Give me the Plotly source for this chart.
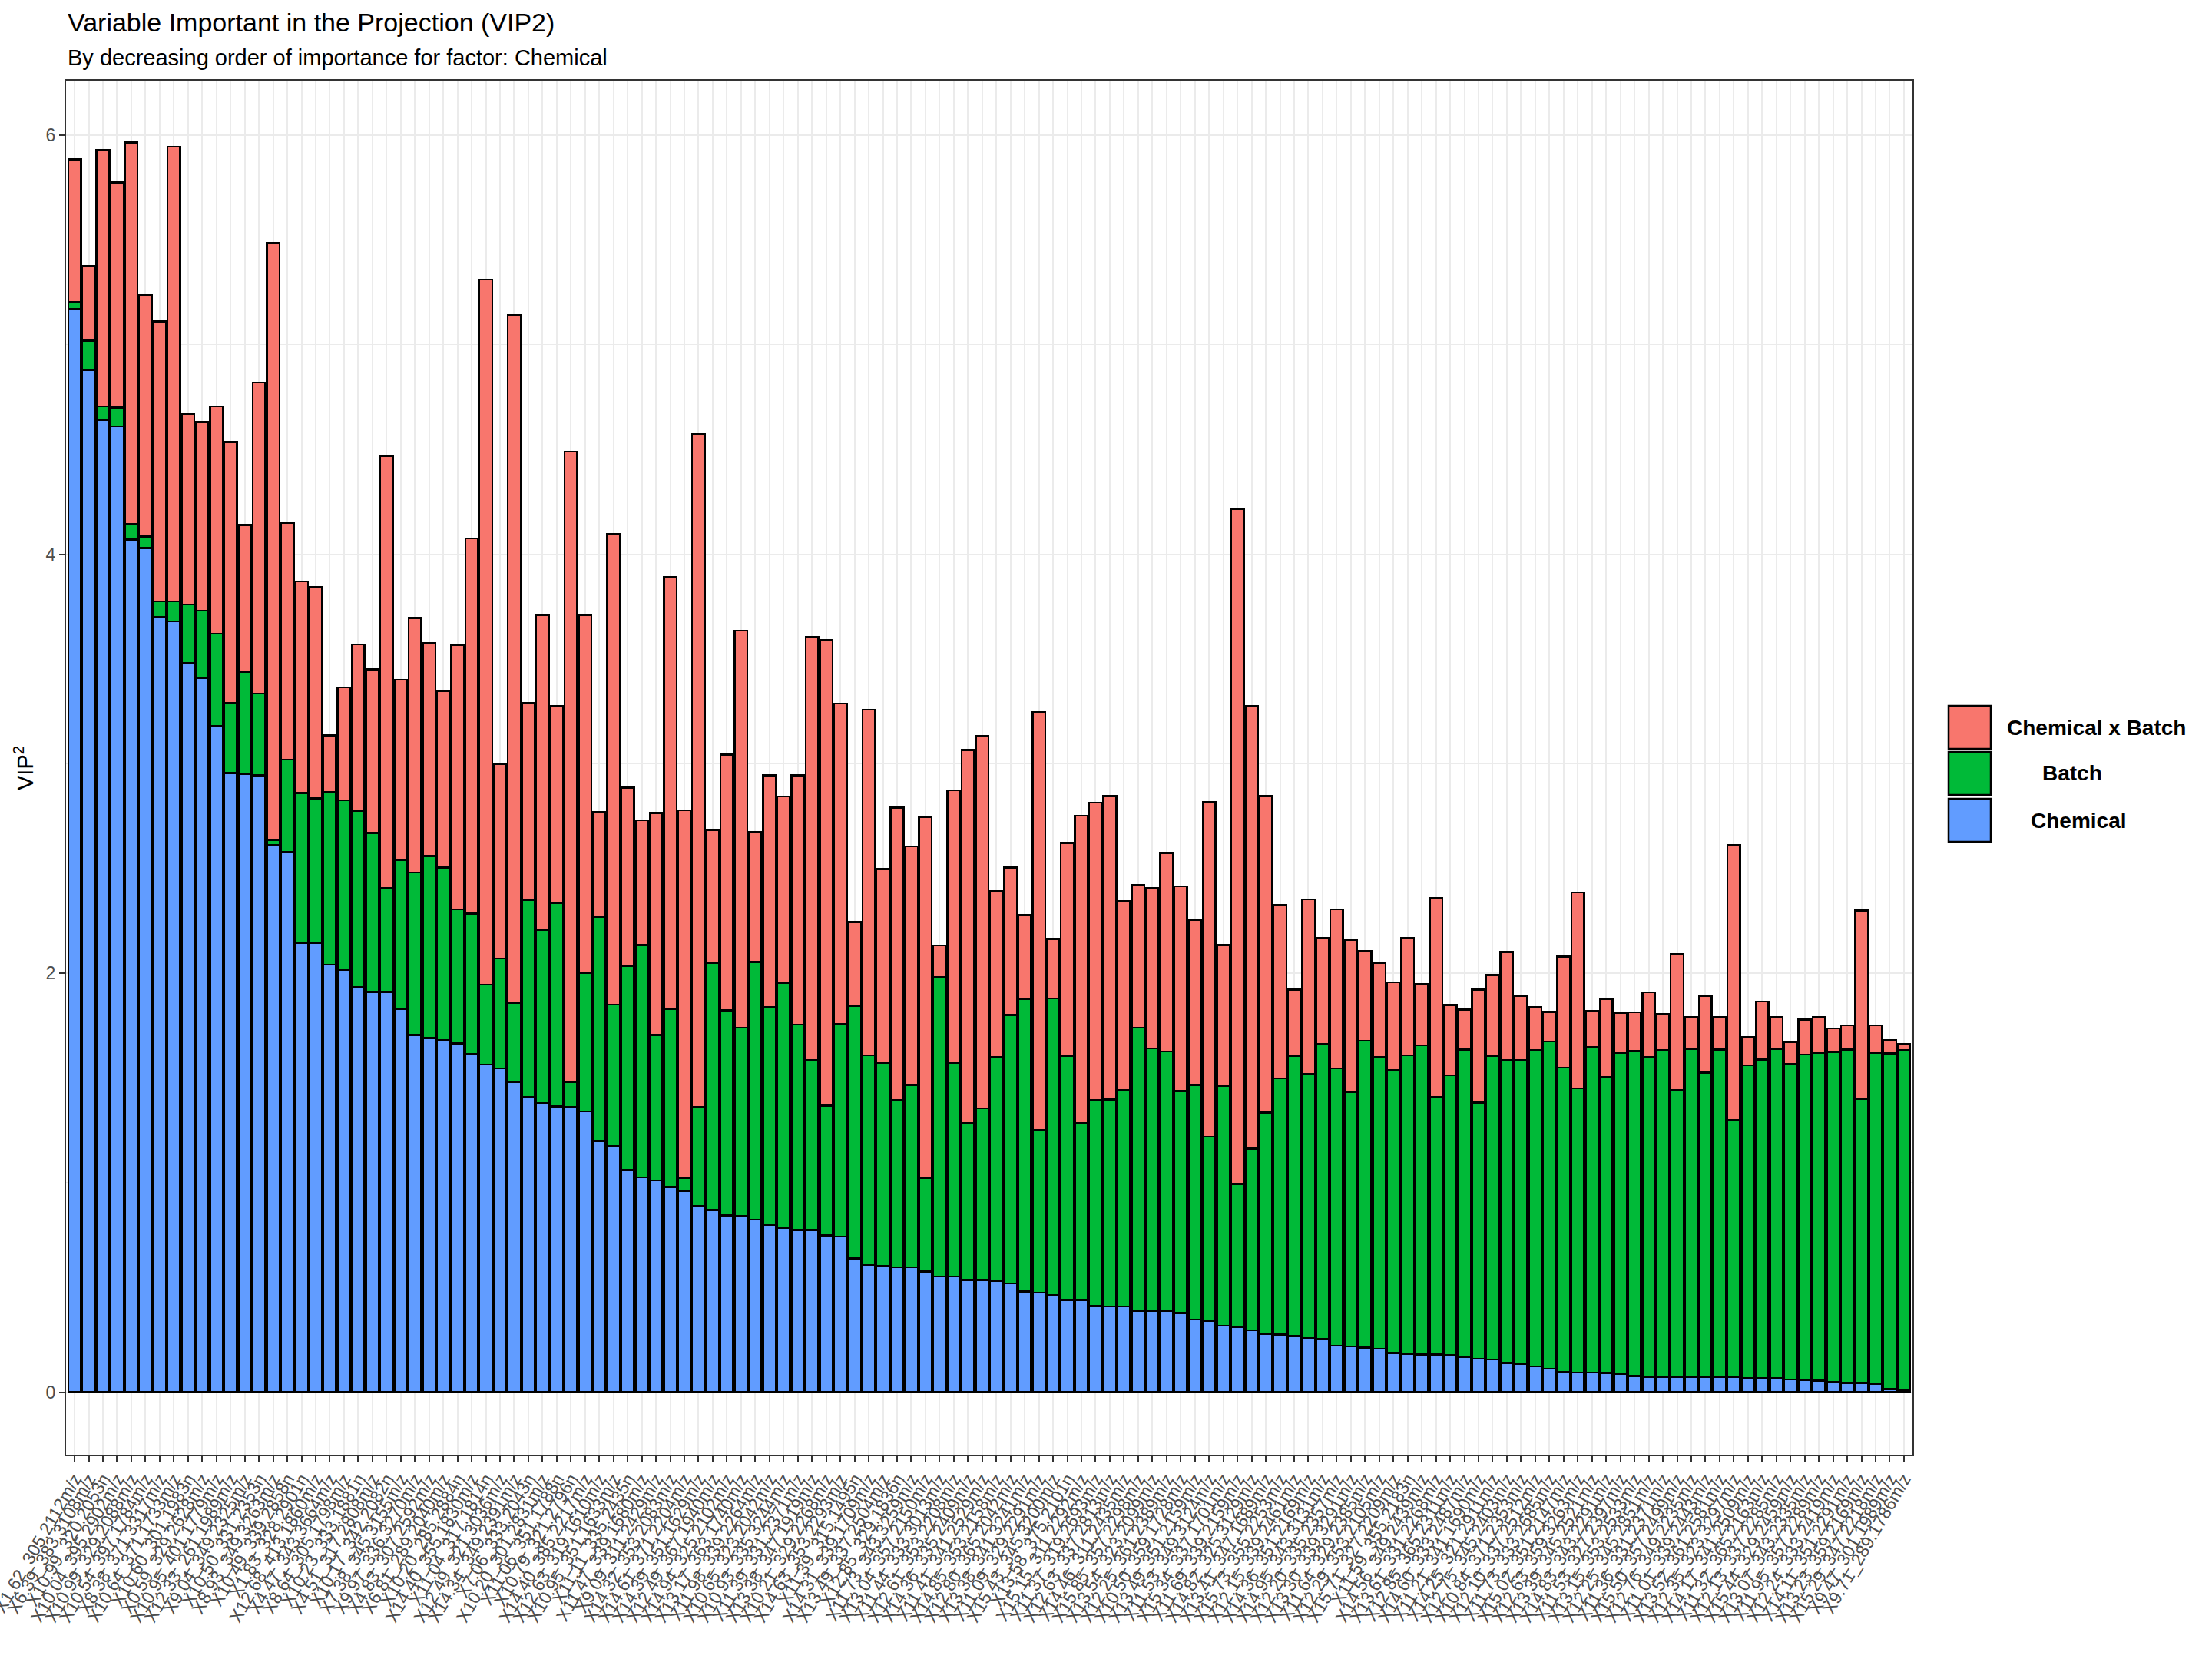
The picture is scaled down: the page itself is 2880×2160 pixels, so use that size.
import plotly.graph_objects as go

# feature labels (x axis), in decreasing order of Chemical VIP2
labels = [
    "X1.62_305.2112m/z", "X6.39_383.3108m/z", "X10.99_320.2053n", "X10.04_395.2902m/z", "X10.99_329.2088m/z",
    "X10.54_397.1784m/z", "X8.38_371.3317m/z", "X10.64_371.1733m/z", "X10.60_301.1983n", "X0.59_329.2628m/z",
    "X10.95_401.1779m/z", "X12.33_261.1989m/z", "X9.04_349.2325m/z", "X10.50_331.2353n", "X8.93_349.3263m/z",
    "X10.49_339.2858n", "X1.83_328.2901n", "X12.68_413.1860m/z", "X4.47_343.3664m/z", "X8.64_305.1798m/z",
    "X10.23_333.1881n", "X4.51_317.2808m/z", "X10.17_342.2082n", "X7.38_345.3155m/z", "X9.97_336.3270m/z",
    "X4.83_307.2592m/z", "X6.81_289.2040m/z", "X10.20_285.2884n", "X14.40_355.1830m/z", "X11.04_317.1814n",
    "X12.49_321.3036m/z", "X14.34_349.2391m/z", "X7.06_333.2043n", "X10.20_301.2831m/z", "X11.06_351.1788n",
    "X10.79_321.2796n", "X14.40_385.2217m/z", "X12.63_319.1610m/z", "X10.95_351.1633m/z", "X11.11_335.2435n",
    "X11.47_339.1680m/z", "X9.09_311.2429m/z", "X14.32_353.2083m/z", "X14.61_371.2204m/z", "X14.39_351.1629m/z",
    "X12.49_367.1940m/z", "X14.94_325.2102m/z", "X13.17_363.1740m/z", "X11.98_339.2264m/z", "X10.65_323.2042m/z",
    "X10.93_335.3244m/z", "X11.39_331.2371m/z", "X13.38_347.1919m/z", "X10.21_329.2268m/z", "X14.63_353.2293m/z",
    "X11.39_315.1495n", "X14.31_339.1709m/z", "X13.49_337.2504m/z", "X12.85_329.1836n", "X11.73_343.3259m/z",
    "X13.04_357.2150m/z", "X11.44_333.3013m/z", "X12.61_353.2208m/z", "X14.36_335.2409m/z", "X11.41_341.2529m/z",
    "X14.85_353.2158m/z", "X12.80_365.2042m/z", "X13.38_341.3241m/z", "X11.09_329.2291m/z", "X15.43_345.3200m/z",
    "X13.58_375.2101n", "X15.15_311.2292m/z", "X11.37_319.2693m/z", "X12.63_337.2813m/z", "X14.46_311.2435m/z",
    "X15.85_357.2298m/z", "X13.54_323.2099m/z", "X12.25_361.2389m/z", "X10.50_359.1728m/z", "X13.49_351.2159m/z",
    "X11.53_349.3124m/z", "X15.34_337.1701m/z", "X11.69_339.2159m/z", "X14.82_325.3129m/z", "X13.41_347.1689m/z",
    "X15.73_355.2253m/z", "X12.15_339.2461m/z", "X14.36_351.2169m/z", "X14.95_343.3131m/z", "X12.20_335.2357m/z",
    "X13.30_339.3291m/z", "X11.64_329.2385m/z", "X12.29_353.2105m/z", "X15.71_327.2209m/z", "X11.59_355.2183n",
    "X14.56_349.2439m/z", "X13.61_331.2268m/z", "X12.85_365.2311m/z", "X14.60_333.2487m/z", "X11.21_341.1690m/z",
    "X14.25_321.2911m/z", "X12.75_345.2403m/z", "X10.84_371.2353m/z", "X12.10_337.2512m/z", "X11.73_333.2685m/z",
    "X15.02_351.2147m/z", "X12.63_359.3263m/z", "X13.39_345.2521m/z", "X14.83_343.2291m/z", "X11.53_327.2397m/z",
    "X13.15_353.2533m/z", "X12.25_345.2851m/z", "X11.36_331.2371m/z", "X15.50_357.2499m/z", "X12.76_349.2235m/z",
    "X11.01_339.2443m/z", "X13.52_361.2581m/z", "X12.35_323.3297m/z", "X14.17_341.2509m/z", "X11.32_365.2163m/z",
    "X12.13_337.2285m/z", "X15.44_329.2459m/z", "X13.07_343.2335m/z", "X11.95_357.2289m/z", "X12.24_333.2419m/z",
    "X14.11_351.2291m/z", "X13.23_359.2169m/z", "X15.29_347.2218m/z", "X9.47_301.1989m/z", "X9.71_289.1786m/z",
]

chemical = [
    5.17, 4.88, 4.64, 4.61, 4.07, 4.03, 3.70, 3.68, 3.48, 3.41,
    3.18, 2.955, 2.95, 2.945, 2.61, 2.58, 2.145, 2.145, 2.04, 2.015,
    1.935, 1.91, 1.91, 1.83, 1.705, 1.69, 1.68, 1.665, 1.615, 1.565,
    1.545, 1.48, 1.41, 1.38, 1.365, 1.36, 1.34, 1.20, 1.175, 1.06,
    1.025, 1.01, 0.98, 0.96, 0.888, 0.87, 0.843, 0.84, 0.824, 0.80,
    0.784, 0.774, 0.774, 0.749, 0.743, 0.639, 0.608, 0.602, 0.596, 0.596,
    0.577, 0.552, 0.552, 0.536, 0.536, 0.533, 0.52, 0.481, 0.476, 0.463,
    0.441, 0.441, 0.411, 0.409, 0.409, 0.389, 0.389, 0.387, 0.379, 0.347,
    0.340, 0.317, 0.312, 0.295, 0.280, 0.275, 0.268, 0.259, 0.253, 0.222,
    0.219, 0.213, 0.208, 0.188, 0.182, 0.180, 0.180, 0.177, 0.168, 0.160,
    0.157, 0.140, 0.135, 0.123, 0.112, 0.098, 0.095, 0.095, 0.092, 0.087,
    0.078, 0.073, 0.073, 0.073, 0.073, 0.073, 0.073, 0.073, 0.069, 0.066,
    0.066, 0.062, 0.058, 0.055, 0.051, 0.044, 0.044, 0.040, 0.015, 0.011,
]

batch = [
    0.035, 0.14, 0.065, 0.09, 0.075, 0.055, 0.075, 0.095, 0.28, 0.32,
    0.44, 0.335, 0.49, 0.39, 0.025, 0.44, 0.715, 0.69, 0.825, 0.81,
    0.84, 0.76, 0.495, 0.71, 0.775, 0.87, 0.825, 0.64, 0.67, 0.38,
    0.525, 0.38, 0.94, 0.825, 0.97, 0.12, 0.66, 1.07, 0.675, 0.975,
    1.11, 0.695, 0.85, 0.063, 0.475, 1.18, 0.98, 0.90, 1.23, 1.04,
    1.17, 0.98, 0.81, 0.62, 1.015, 1.205, 1.00, 0.97, 0.80, 0.87,
    0.445, 1.43, 1.02, 0.75, 0.82, 1.066, 1.28, 1.395, 0.776, 1.416,
    1.165, 0.843, 0.984, 0.989, 1.033, 1.351, 1.252, 1.239, 1.058, 1.118,
    0.879, 1.145, 0.682, 0.867, 1.056, 1.224, 1.338, 1.259, 1.411, 1.324,
    1.215, 1.465, 1.391, 1.350, 1.426, 1.475, 1.229, 1.335, 1.468, 1.223,
    1.448, 1.445, 1.450, 1.510, 1.563, 1.451, 1.356, 1.552, 1.412, 1.533,
    1.550, 1.528, 1.559, 1.368, 1.566, 1.453, 1.563, 1.227, 1.492, 1.522,
    1.573, 1.506, 1.554, 1.564, 1.574, 1.592, 1.358, 1.579, 1.602, 1.621,
]

chem_x_batch = [
    0.68, 0.355, 1.225, 1.075, 1.82, 1.15, 1.335, 2.17, 0.91, 0.90,
    1.085, 1.245, 0.70, 1.485, 2.85, 1.13, 1.01, 1.01, 0.27, 0.54,
    0.795, 0.78, 2.065, 0.86, 1.215, 1.015, 0.84, 1.26, 1.79, 3.365,
    0.93, 3.28, 0.94, 1.505, 0.94, 3.01, 1.71, 0.50, 2.245, 0.85,
    0.595, 1.06, 2.06, 1.755, 3.21, 0.635, 1.22, 1.895, 0.62, 1.105,
    0.89, 1.19, 2.02, 2.22, 1.53, 0.40, 1.65, 0.925, 1.395, 1.14,
    1.725, 0.15, 1.30, 1.78, 1.775, 0.792, 0.705, 0.402, 1.995, 0.285,
    1.016, 1.467, 1.420, 1.447, 0.903, 0.681, 0.765, 0.949, 0.977, 0.788,
    1.599, 0.672, 3.221, 2.114, 1.509, 0.828, 0.315, 0.835, 0.505, 0.758,
    0.724, 0.426, 0.449, 0.418, 0.561, 0.295, 0.948, 0.337, 0.191, 0.539,
    0.387, 0.517, 0.306, 0.205, 0.140, 0.530, 0.934, 0.174, 0.372, 0.191,
    0.185, 0.308, 0.173, 0.649, 0.153, 0.367, 0.153, 1.311, 0.133, 0.276,
    0.150, 0.104, 0.166, 0.173, 0.111, 0.115, 0.897, 0.133, 0.062, 0.031,
]

series = [
    ("Chemical", chemical, "#619CFF"),
    ("Batch", batch, "#00BA38"),
    ("Chemical x Batch", chem_x_batch, "#F8766D"),
]

FONT = "Liberation Sans, Arial, sans-serif"

fig = go.Figure()
for name, vals, color in series:
    fig.add_bar(
        x=labels, y=vals, name=name, width=0.9,
        marker=dict(color=color, line=dict(color="black", width=2.5)),
        showlegend=False,
    )

fig.update_layout(
    barmode="stack",
    width=2880, height=2160,
    margin=dict(l=86, r=390, t=105, b=266, autoexpand=False),
    plot_bgcolor="white", paper_bgcolor="white",
    font=dict(family=FONT, color="black"),
)

fig.update_xaxes(
    type="category", range=[-0.6, len(labels) - 0.4],
    tickmode="array", tickvals=labels, ticktext=labels,
    showgrid=True, gridcolor="#EBEBEB", gridwidth=2,
    ticks="outside", ticklen=7, tickwidth=2, tickcolor="#333333",
    tickangle=-60, tickfont=dict(size=23, color="#4D4D4D", family=FONT),
    showline=True, mirror=True, linecolor="#333333", linewidth=2,
    zeroline=False, automargin=False,
)
fig.update_yaxes(
    range=[-0.298, 6.26], tick0=0, dtick=2,
    showgrid=True, gridcolor="#EBEBEB", gridwidth=2,
    minor=dict(tick0=0, dtick=1, showgrid=True, gridcolor="#EBEBEB", gridwidth=1, ticks=""),
    ticks="outside", ticklen=7, tickwidth=2, tickcolor="#333333",
    tickfont=dict(size=23, color="#4D4D4D", family=FONT),
    showline=True, mirror=True, linecolor="#333333", linewidth=2,
    zeroline=False, automargin=False,
)

# titles (pixel positions converted to paper coordinates)
plot_w, plot_h = 2880 - 86 - 390, 2160 - 105 - 266


def px(xp):
    return (xp - 86) / plot_w


def py(yp):
    return (2160 - 266 - yp) / plot_h


fig.add_annotation(text="Variable Important in the Projection (VIP2)", xref="paper", yref="paper",
                   x=px(86), y=py(29), xanchor="left", yanchor="middle", showarrow=False,
                   font=dict(size=34, family=FONT, color="black"))
fig.add_annotation(text="By decreasing order of importance for factor: Chemical", xref="paper", yref="paper",
                   x=px(86), y=py(75), xanchor="left", yanchor="middle", showarrow=False,
                   font=dict(size=29, family=FONT, color="black"))
fig.add_annotation(text="VIP<sup>2</sup>", xref="paper", yref="paper", textangle=-90,
                   x=px(31), y=py(1000), xanchor="center", yanchor="middle", showarrow=False,
                   font=dict(size=29, family=FONT, color="black"))

# legend drawn by hand to match the centred bold labels
legend_items = [("Chemical x Batch", "#F8766D", 919, 2729),
                ("Batch", "#00BA38", 979, 2698),
                ("Chemical", "#619CFF", 1040, 2706)]
for text, color, top, cx in legend_items:
    fig.add_shape(type="rect", xref="paper", yref="paper",
                  x0=px(2537), x1=px(2592), y0=py(top), y1=py(top + 56),
                  fillcolor=color, line=dict(color="black", width=2.5))
    fig.add_annotation(text=f"<b>{text}</b>", xref="paper", yref="paper",
                       x=px(cx), y=py(top + 28), xanchor="center", yanchor="middle",
                       showarrow=False, font=dict(size=28, family=FONT, color="black"))

fig.write_html("out.html", config={"displayModeBar": False},
               post_script="document.body.style.margin='0';")
